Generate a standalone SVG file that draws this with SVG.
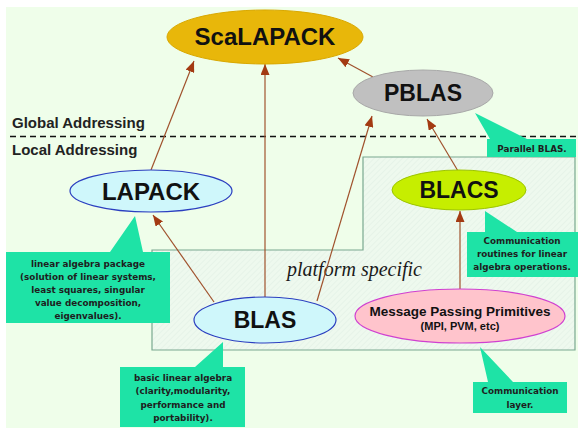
<svg xmlns="http://www.w3.org/2000/svg" width="578" height="430" viewBox="0 0 578 430">
<style>
.nl{font-family:"Liberation Sans",Arial,sans-serif;font-weight:bold;fill:#111;text-anchor:middle}
.co{fill:#1ee3a6;stroke:none}
.ct{font-family:"DejaVu Sans","Liberation Sans",sans-serif;font-size:8.8px;font-weight:bold;fill:#1e1e1e;text-anchor:middle}
.edge{stroke:#a0522d;stroke-width:1.2;fill:none;marker-end:url(#ah)}
.lbl{font-family:"Liberation Sans",Arial,sans-serif;font-weight:bold;font-size:15px;fill:#222}
</style>
<defs>
<marker id="ah" markerUnits="userSpaceOnUse" markerWidth="11" markerHeight="9" refX="11" refY="4.5" orient="auto">
<path d="M0,0 L11,4.5 L0,9 z" fill="#a33a12"/>
</marker>
<pattern id="hatch" width="4" height="4" patternUnits="userSpaceOnUse" patternTransform="rotate(45)">
<rect width="4" height="4" fill="#eef9ee"/>
<line x1="0" y1="0" x2="0" y2="4" stroke="#dfeee2" stroke-width="1"/>
</pattern>
</defs>
<rect width="578" height="430" fill="#ffffff"/>
<rect x="6" y="7" width="572" height="421" fill="#effeea"/>

<g id="platform-region">
<path d="M363,157 L575,157 L575,350 L152,350 L152,250 L363,250 Z" fill="url(#hatch)" stroke="#7aa890" stroke-width="1.2"/>
<text x="287" y="276" font-family="Liberation Serif,'Times New Roman',serif" font-style="italic" font-size="20" fill="#1a1a1a">platform specific</text>
</g>

<g id="addressing">
<line x1="10" y1="136.5" x2="578" y2="136.5" stroke="#111" stroke-width="1.6" stroke-dasharray="6,4"/>
<text class="lbl" x="12" y="128">Global Addressing</text>
<text class="lbl" x="12" y="155">Local Addressing</text>
</g>

<g id="connectors">
<line class="edge" x1="151" y1="170" x2="194" y2="61"/>
<line class="edge" x1="265" y1="297" x2="265" y2="64"/>
<line class="edge" x1="373" y1="77" x2="338" y2="58"/>
<line class="edge" x1="317" y1="301" x2="372" y2="116"/>
<line class="edge" x1="458" y1="171" x2="427" y2="119"/>
<line class="edge" x1="214" y1="302" x2="153" y2="215"/>
<line class="edge" x1="460" y1="290" x2="460" y2="211"/>
</g>

<g id="callout-pblas">
<path class="co" d="M475,113 L527,139 L576,139 L576,157 L487,157 L487,139 L490,139 Z"/>
<text class="ct" x="532" y="152">Parallel BLAS.</text>
</g>

<g id="callout-blacs">
<path class="co" d="M485,211 L517,232 L578,232 L578,277 L467,277 L467,232 L485,232 Z"/>
<text class="ct" x="522" y="244">Communication</text>
<text class="ct" x="522" y="257">routines for linear</text>
<text class="ct" x="522" y="270">algebra operations.</text>
</g>

<g id="callout-lapack">
<path class="co" d="M135,216 L143,252 L170,252 L170,323 L6,323 L6,252 L110,252 Z"/>
<text class="ct" x="88" y="267">linear algebra package</text>
<text class="ct" x="88" y="280">(solution of linear systems,</text>
<text class="ct" x="88" y="293">least squares, singular</text>
<text class="ct" x="88" y="306">value decomposition,</text>
<text class="ct" x="88" y="319">eigenvalues).</text>
</g>

<g id="callout-blas">
<path class="co" d="M223,342 L223,367 L245,367 L245,427 L120,427 L120,367 L195,367 Z"/>
<text class="ct" x="183" y="381">basic linear algebra</text>
<text class="ct" x="183" y="394">(clarity,modularity,</text>
<text class="ct" x="183" y="408">performance and</text>
<text class="ct" x="183" y="421">portability).</text>
</g>

<g id="callout-mpp">
<path class="co" d="M480,347 L513,382 L567,382 L567,413 L473,413 L473,382 L488,382 Z"/>
<text class="ct" x="520" y="394">Communication</text>
<text class="ct" x="520" y="408">layer.</text>
</g>

<g id="scalapack">
<ellipse cx="265" cy="37" rx="98" ry="27" fill="#e8b70a" stroke="#d9a800" stroke-width="1"/>
<text class="nl" x="265" y="45" font-size="24">ScaLAPACK</text>
</g>

<g id="pblas">
<ellipse cx="423" cy="93" rx="70" ry="23" fill="#c0c0c0" stroke="#a8a8a8" stroke-width="1"/>
<text class="nl" x="423" y="101" font-size="23">PBLAS</text>
</g>

<g id="lapack">
<ellipse cx="151" cy="191" rx="81" ry="21" fill="#cff7fb" stroke="#2b3fc0" stroke-width="1.2"/>
<text class="nl" x="151" y="200" font-size="24">LAPACK</text>
</g>

<g id="blacs">
<ellipse cx="459" cy="190" rx="67" ry="20" fill="#c6ee00" stroke="#9cc400" stroke-width="1"/>
<text class="nl" x="459" y="198" font-size="23">BLACS</text>
</g>

<g id="blas">
<ellipse cx="265" cy="320" rx="71" ry="23" fill="#cff7fb" stroke="#2b3fc0" stroke-width="1.2"/>
<text class="nl" x="265" y="328" font-size="23">BLAS</text>
</g>

<g id="mpp">
<ellipse cx="460" cy="316" rx="105" ry="27" fill="#ffc4cc" stroke="#d040d0" stroke-width="1.2"/>
<text class="nl" x="460" y="316" font-size="13.5">Message Passing Primitives</text>
<text class="nl" x="460" y="330" font-size="11">(MPI, PVM, etc)</text>
</g>
</svg>
